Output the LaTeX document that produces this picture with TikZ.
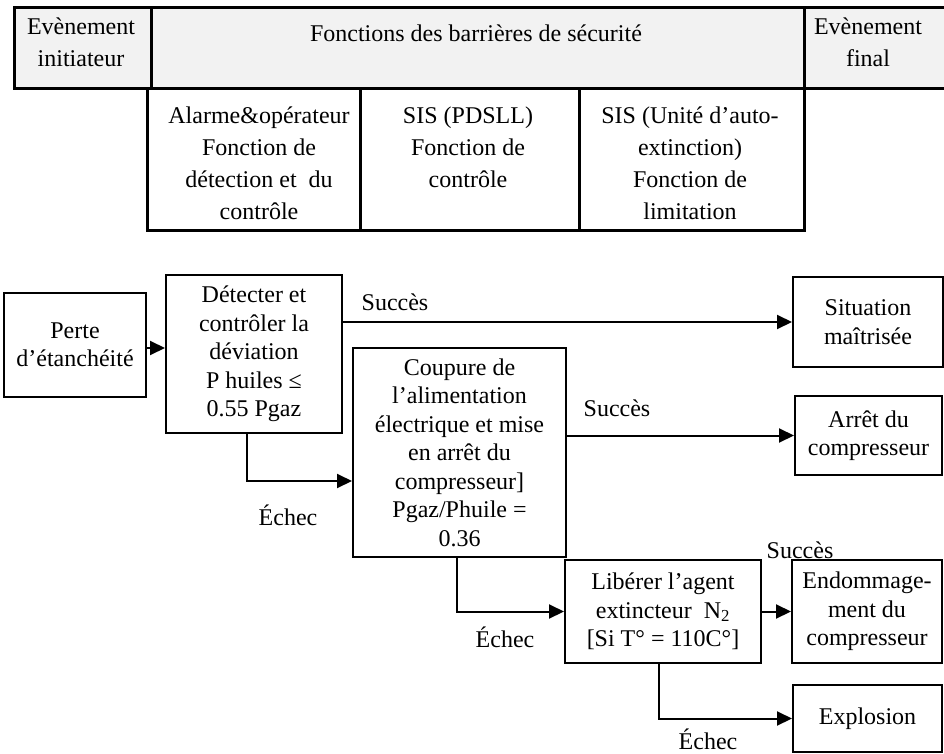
\documentclass[tikz,border=0pt]{standalone}
\usepackage{fontspec}
\setmainfont{Liberation Serif}
\usetikzlibrary{arrows.meta}
\definecolor{hdr}{HTML}{F2F2F2}
\begin{document}
\begin{tikzpicture}[x=1pt,y=-1pt,
 tabcell/.style={draw, line width=2.6pt, fill=#1, inner sep=0pt, anchor=north west},
 tabtxt/.style={align=center, inner sep=0pt, font=\fontsize{24}{32}\selectfont},
 box/.style={draw, line width=2pt, align=center, inner sep=0pt, font=\fontsize{24}{28.5}\selectfont},
 arr/.style={line width=2pt, -{Triangle[length=15pt,width=14pt]}},
 lbl/.style={inner sep=0pt, font=\fontsize{24}{28.5}\selectfont}]
\useasboundingbox (0,0) rectangle (944,754);
% table
\node[tabcell=hdr, minimum width=137pt, minimum height=81pt] (init) at (13,6) {};
\node[tabcell=hdr, minimum width=653pt, minimum height=81pt] (func) at (150,6) {};
\node[tabcell=hdr, minimum width=147pt, minimum height=81pt] (final) at (803,6) {};
\node[tabcell=white, minimum width=213pt, minimum height=142pt] (sub1) at (146,87) {};
\node[tabcell=white, minimum width=219pt, minimum height=142pt] (sub2) at (359,87) {};
\node[tabcell=white, minimum width=225pt, minimum height=142pt] (sub3) at (578,87) {};
\node[tabtxt] (tinit) at (81,42.5) {Evènement\\initiateur};
\node[tabtxt] (tfunc) at (476,33) {Fonctions des barrières de sécurité};
\node[tabtxt] (tfinal) at (868,42.5) {Evènement\\final};
\node[tabtxt] (tsub1) at (259,163.5) {Alarme\&opérateur\\Fonction de\\détection et~ du\\contrôle};
\node[tabtxt] (tsub2) at (468,147.5) {SIS (PDSLL)\\Fonction de\\contrôle};
\node[tabtxt] (tsub3) at (690,163.5) {SIS (Unité d’auto-\\extinction)\\Fonction de\\limitation};
% flow boxes
\node[box, minimum width=142pt, minimum height=104pt] (perte) at (75,345) {Perte\\d’étanchéité};
\node[box, minimum width=176pt, minimum height=158pt] (detect) at (254,354) {Détecter et\\contrôler la\\déviation\\P huiles ≤\\0.55 Pgaz};
\node[box, minimum width=150pt, minimum height=90pt] (situ) at (868,322) {Situation\\maîtrisée};
\node[box, minimum width=213pt, minimum height=209pt] (coup) at (459.5,452.5) {Coupure de\\l’alimentation\\électrique et mise\\en arrêt du\\compresseur]\\Pgaz/Phuile =\\0.36};
\node[box, minimum width=147pt, minimum height=79pt] (arret) at (868.5,435.5) {Arrêt du\\compresseur};
\node[box, minimum width=196pt, minimum height=103pt] (lib) at (663,611.5) {Libérer l’agent\\extincteur~ N\textsubscript{2}\\{[}Si T° = 110C°{]}};
\node[box, minimum width=150pt, minimum height=103pt] (endo) at (867,611.5) {Endommage-\\ment du\\compresseur};
\node[box, minimum width=149pt, minimum height=67pt] (expl) at (867.5,718.5) {Explosion};
% connectors
\draw[arr] ([yshift=-3pt]perte.east) -- ([yshift=-3pt]perte.east -| detect.west);
\draw[arr] (detect.east |- situ.west) -- (situ.west);
\node[lbl] (s1) at (395,302) {Succès};
\draw[arr] ([xshift=-7pt]detect.south) |- ([yshift=-28.5pt]coup.west);
\node[lbl] (e1) at (288,515) {Échec};
\draw[arr] (coup.east |- arret.west) -- (arret.west);
\node[lbl] (s2) at (617,408) {Succès};
\draw[arr] ([xshift=-2.5pt]coup.south) |- (lib.west);
\node[lbl] (e2) at (505,637) {Échec};
\draw[arr] (lib.east) -- (endo.west);
\node[lbl] (s3) at (800,550) {Succès};
\draw[arr] ([xshift=-4pt]lib.south) |- (expl.west);
\node[lbl] (e3) at (708,739) {Échec};
\end{tikzpicture}
\end{document}
